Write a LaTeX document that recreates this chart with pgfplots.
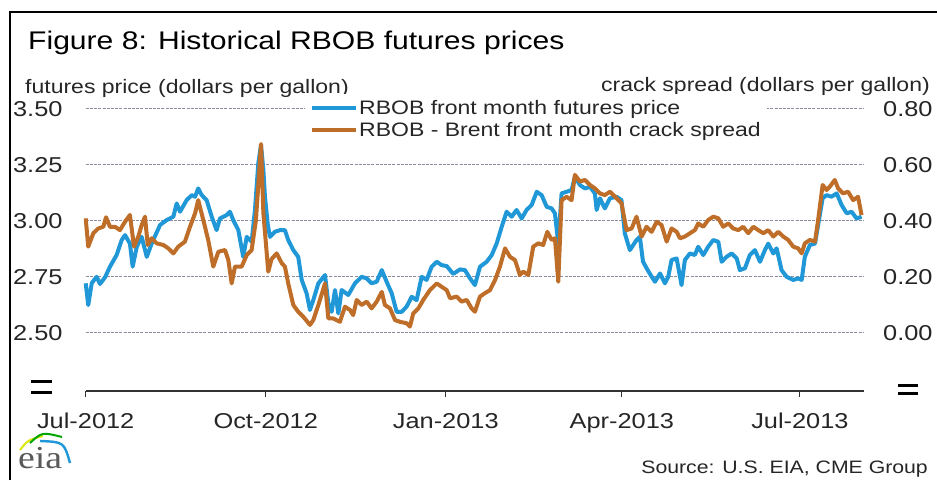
\documentclass[border=0pt]{standalone}
\usepackage{pgfplots}
\pgfplotsset{compat=1.18}
\usepackage{pgfplotstable}
\usepackage{fontspec}
\setmainfont{Liberation Sans}[FakeStretch=1.18]
\newfontfamily\eiafont{Liberation Serif}[FakeStretch=1.18]
\definecolor{rbobblue}{RGB}{32,152,215}
\definecolor{rbobbrown}{RGB}{190,110,40}
\definecolor{gridc}{RGB}{140,140,160}
\definecolor{axisc}{RGB}{50,50,50}
\newcommand{\ticksize}{\fontsize{21.5}{24}\selectfont}
\newcommand{\labsize}{\fontsize{19.5}{22}\selectfont}

\pgfplotstableread{
d P
0 2.723
1.3 2.626
3.1 2.724
5.6 2.752
7.3 2.72
9.9 2.75
12.4 2.797
15.8 2.849
18.4 2.916
20.1 2.938
22.6 2.90
24.0 2.797
26.1 2.886
28.6 2.93
31.2 2.841
33.7 2.90
38.0 2.983
41.4 3.005
44.8 3.02
46.5 3.079
48.2 3.042
51.6 3.094
54.2 3.116
55.9 3.109
57.5 3.146
59.3 3.116
61.8 3.094
64.4 3.02
66.9 2.96
68.6 3.012
72.0 3.027
73.7 3.042
75.4 3.005
78.0 2.96
80.5 2.841
82.3 2.93
84.8 2.908
86.5 3.05
88.2 3.258
89.6 3.339
90.8 3.228
91.6 3.11
93.1 2.98
94.2 2.93
96.7 2.953
99.3 2.96
101.8 2.96
103.5 2.916
106.1 2.871
108.6 2.841
110.4 2.738
112.9 2.678
114.6 2.604
116.3 2.648
118.9 2.723
122.3 2.76
124.0 2.634
125.7 2.596
127.4 2.693
129.1 2.589
130.8 2.693
134.2 2.671
137.6 2.723
141.0 2.752
143.6 2.745
146.1 2.723
148.7 2.73
151.3 2.782
153.8 2.73
156.4 2.678
158.9 2.596
161.5 2.596
164.0 2.619
166.6 2.663
169.1 2.648
171.7 2.752
174.2 2.738
176.8 2.797
179.4 2.819
181.9 2.804
184.5 2.80
187.8 2.765
191.3 2.785
193.8 2.782
196.4 2.745
198.9 2.715
201.5 2.797
204.9 2.819
207.5 2.849
210.0 2.90
212.6 2.975
215.1 3.042
217.7 3.02
220.2 3.05
222.8 3.012
225.3 3.05
227.9 3.072
230.5 3.131
233.0 3.116
235.6 3.064
238.1 3.057
239.8 3.035
241.5 2.90
243.2 3.124
245.8 3.131
248.3 3.139
250.0 3.198
252.6 3.161
255.1 3.146
257.7 3.153
260.2 3.124
261.1 3.05
262.8 3.102
265.3 3.057
267.9 3.102
271.3 3.109
273.8 3.094
275.5 2.946
278.1 2.871
281.5 2.916
283.2 2.93
284.8 2.82
287.3 2.78
290.9 2.73
293.5 2.767
296.0 2.723
297.7 2.752
299.4 2.827
302.0 2.834
304.5 2.715
306.2 2.827
308.8 2.856
311.3 2.849
313.0 2.886
315.6 2.849
318.1 2.886
320.7 2.916
323.3 2.908
325.0 2.819
327.5 2.841
330.1 2.856
332.7 2.834
334.3 2.782
336.9 2.79
339.4 2.849
342.0 2.871
344.6 2.819
347.1 2.871
348.8 2.90
351.4 2.856
353.1 2.879
355.6 2.782
358.2 2.752
361.6 2.738
364.1 2.745
365.9 2.738
367.5 2.841
370.1 2.894
372.7 2.90
374.3 2.983
376.6 3.102
378.6 3.116
381.2 3.109
383.8 3.124
386.3 3.072
388.9 3.035
391.4 3.042
394.0 3.012
396.5 3.02
}\pricetable

\pgfplotstableread{
d C
0 0.410
1.3 0.309
3.9 0.357
6.4 0.374
9.0 0.380
10.4 0.414
12.4 0.380
15.0 0.380
17.5 0.368
20.1 0.398
22.6 0.422
24.7 0.309
26.9 0.345
28.6 0.386
30.3 0.416
31.7 0.315
33.7 0.339
36.3 0.321
39.7 0.315
42.2 0.303
44.8 0.285
47.3 0.309
50.7 0.327
53.3 0.380
55.9 0.428
57.5 0.475
60.1 0.404
62.6 0.333
65.2 0.238
67.8 0.291
71.2 0.297
72.9 0.261
74.6 0.178
76.3 0.238
79.7 0.238
82.3 0.279
84.8 0.297
87.0 0.404
89.6 0.675
90.8 0.428
93.3 0.220
95.0 0.265
97.6 0.285
100.2 0.250
101.8 0.238
103.5 0.178
106.1 0.101
108.6 0.077
111.2 0.059
114.6 0.030
116.3 0.047
118.9 0.101
122.3 0.178
124.0 0.053
126.5 0.053
129.9 0.041
132.5 0.095
135.1 0.083
136.7 0.065
138.5 0.119
141.0 0.101
143.6 0.113
146.1 0.089
148.7 0.113
151.3 0.148
152.9 0.101
155.5 0.089
158.1 0.047
160.6 0.041
164.0 0.036
165.7 0.024
167.4 0.071
170.0 0.089
172.5 0.119
175.9 0.154
179.4 0.178
181.9 0.166
184.5 0.154
186.2 0.125
189.6 0.131
192.1 0.113
194.7 0.119
197.2 0.089
198.9 0.077
201.5 0.131
204.0 0.143
206.6 0.154
209.2 0.190
211.7 0.238
214.3 0.303
216.8 0.273
219.4 0.261
221.9 0.208
223.6 0.220
226.2 0.208
228.7 0.309
231.3 0.321
233.8 0.315
235.9 0.362
238.1 0.333
239.8 0.339
241.5 0.184
243.2 0.475
245.8 0.487
248.3 0.475
250.0 0.565
252.6 0.541
255.1 0.547
257.7 0.529
260.2 0.517
262.8 0.499
265.3 0.493
267.9 0.505
270.5 0.487
273.8 0.464
276.4 0.368
279.0 0.374
281.5 0.416
284.1 0.345
286.6 0.380
289.2 0.362
291.8 0.398
294.3 0.386
296.9 0.327
299.4 0.374
302.0 0.362
303.7 0.339
306.2 0.345
308.8 0.357
311.3 0.368
313.0 0.392
315.6 0.380
318.1 0.404
320.7 0.416
323.3 0.410
325.8 0.380
328.4 0.392
330.9 0.374
333.5 0.368
336.0 0.380
338.6 0.357
341.2 0.380
343.7 0.368
346.3 0.357
348.8 0.368
351.4 0.345
353.9 0.362
356.5 0.345
359.0 0.333
361.6 0.309
364.1 0.303
365.9 0.285
367.5 0.321
370.1 0.333
372.7 0.327
374.3 0.404
376.6 0.529
378.6 0.511
380.3 0.523
382.8 0.547
384.5 0.517
387.1 0.499
389.6 0.505
392.2 0.475
394.7 0.487
396.5 0.422
}\cracktable

\begin{document}
\begin{tikzpicture}[x=1pt,y=1pt]
\path[use as bounding box] (0,0) rectangle (937,480);
% frame
\draw[black, line width=1.2pt] (10,0) -- (10,468) -- (937,468);
% title and axis titles
\node[anchor=base west, inner sep=0pt, font=\fontsize{25.5}{28}\selectfont] at (28,430) {Figure 8: Historical RBOB futures prices};
\node[anchor=base west, inner sep=0pt, font=\labsize, text=black!85] at (25,386) {futures price (dollars per gallon)};
\node[anchor=base east, inner sep=0pt, font=\labsize, text=black!85] at (930,388) {crack spread (dollars per gallon)};

% horizontal grid lines (price 2.50 ... 3.50 at 56.1pt spacing)
\foreach \gy in {108.3,164.4,220.5,276.6,332.7}{
  \draw[gridc, line width=1.1pt, dash pattern=on 3pt off 1.2pt] (85.7,480-\gy) -- (864.3,480-\gy);
}

\begin{axis}[
  at={(85.7pt,89pt)}, anchor=south west,
  scale only axis, width=778.6pt, height=282pt,
  xmin=0, xmax=397.9, ymin=2.243, ymax=3.50,
  axis x line*=bottom, axis y line*=left,
  y axis line style={draw=none},
  x axis line style={draw=axisc, line width=1.3pt, -},
  xtick={0,92,184,274,365},
  xticklabels={Jul-2012,Oct-2012,Jan-2013,Apr-2013,Jul-2013},
  xtick align=outside,
  major tick length=6pt,
  x tick style={draw=axisc, line width=1pt},
  ytick={2.5,2.75,3,3.25,3.5},
  yticklabels={2.50,2.75,3.00,3.25,3.50},
  ytick style={draw=none},
  xticklabel style={font=\ticksize, text=black!85, anchor=base, inner sep=0pt, yshift=-31pt},
  yticklabel style={font=\ticksize, text=black!85, anchor=east, inner sep=0pt, xshift=-23pt},
  clip=false,
]
\addplot[color=rbobblue, line width=4pt, line join=round] table[x=d, y=P] {\pricetable};
\end{axis}

\begin{axis}[
  at={(85.7pt,89pt)}, anchor=south west,
  scale only axis, width=778.6pt, height=282pt,
  xmin=0, xmax=397.9, ymin=-0.2057, ymax=0.80,
  axis x line=none, axis y line*=right,
  y axis line style={draw=none},
  ytick={0,0.2,0.4,0.6,0.8},
  yticklabels={0.00,0.20,0.40,0.60,0.80},
  ytick style={draw=none},
  yticklabel style={font=\ticksize, text=black!85, anchor=west, inner sep=0pt, xshift=18.7pt},
  legend image code/.code={\draw[#1] (0pt,6.5pt) -- (44pt,6.5pt);},
  legend style={at={(0.2810,1.0525)}, anchor=north west, draw=none, fill=white,
    inner sep=5pt, row sep=1pt, column sep=0pt, font=\labsize, text=black!85,
    nodes={inner sep=1.5pt, text height=14pt, text depth=4pt, anchor=base west}},
  legend cell align=left,
  clip=false,
]
\addlegendimage{color=rbobblue, line width=4pt}
\addlegendentry{RBOB front month futures price}
\addplot[color=rbobbrown, line width=4pt, line join=round] table[x=d, y=C] {\cracktable};
\addlegendentry{RBOB - Brent front month crack spread}
\end{axis}

% axis break marks
\draw[black, line width=3.3pt] (31,98.3) -- (52,98.3);
\draw[black, line width=3.3pt] (31,87.7) -- (52,87.7);
\draw[black, line width=3.3pt] (898,94.7) -- (918,94.7);
\draw[black, line width=3.3pt] (898,86.2) -- (918,86.2);

% source
\node[anchor=base east, inner sep=0pt, font=\fontsize{18}{20}\selectfont, text=black!85] at (928,7) {Source: U.S. EIA, CME Group};

% eia logo
\node[anchor=base west, inner sep=0pt, font=\eiafont\fontsize{32}{34}\selectfont, text=black!65] at (18,12) {eia};
\draw[line width=2pt, yellow!85!green] (20,30) .. controls (28,40) .. (43,44);
\draw[line width=2pt, green!65!black] (30,37) .. controls (42,48) .. (62,43);
\draw[line width=2.4pt, rbobblue] (40,39) .. controls (64,38) .. (70,17);
\end{tikzpicture}
\end{document}
